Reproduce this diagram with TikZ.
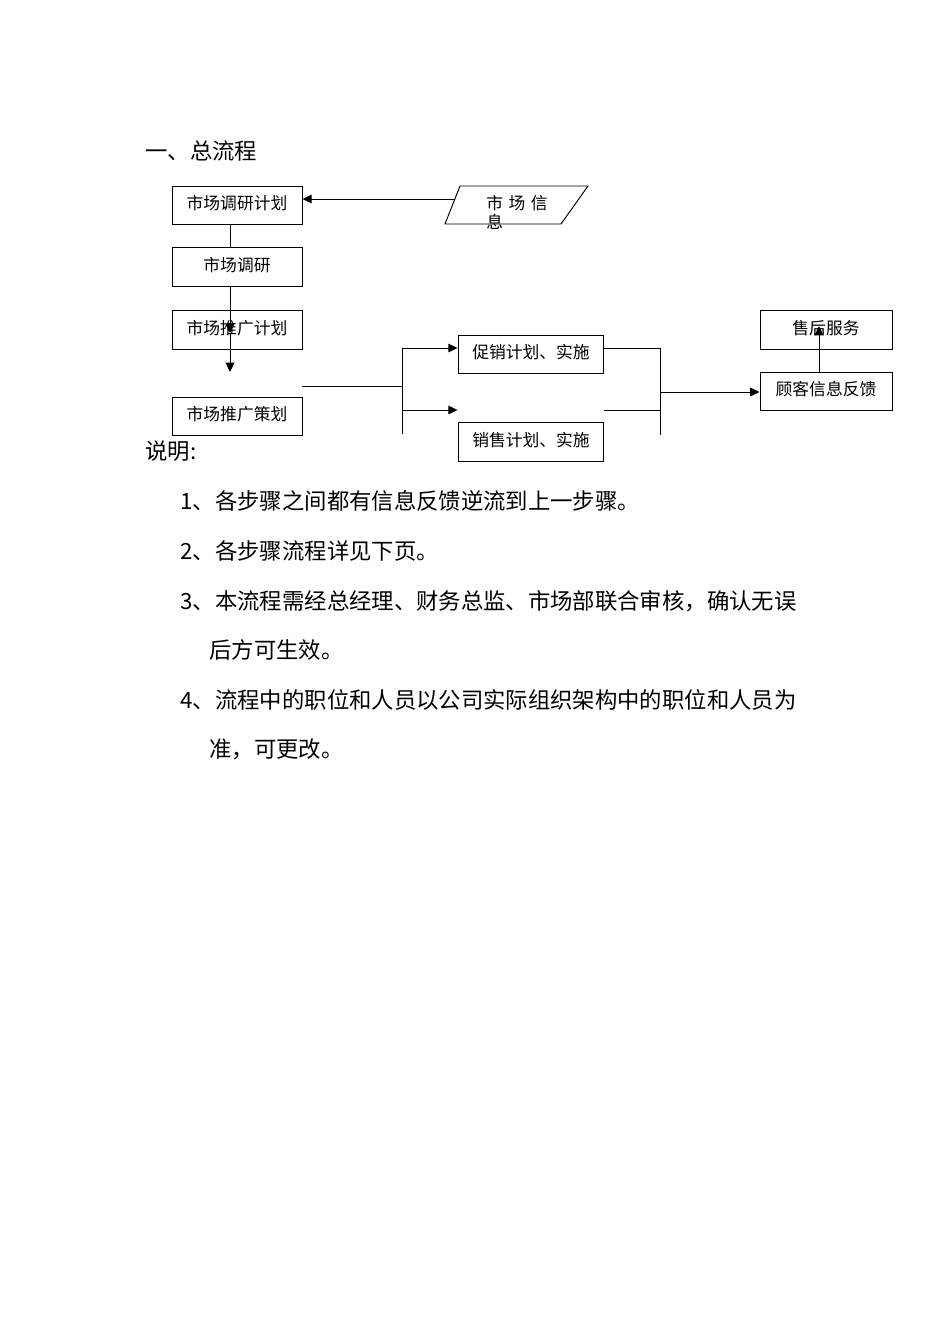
\documentclass[tikz,border=0pt]{standalone}
\usepackage{fontspec}
\setmainfont{Noto Sans CJK SC}
\usetikzlibrary{calc}
\usetikzlibrary{arrows.meta}
\def\hoja{(0,0) rectangle (950,1344)}
\def\up#1{\raisebox{3pt}{#1}}

\begin{document}
\begin{tikzpicture}[x=0.6263pt,y=-0.6263pt,line width=0.6pt,
   stepbox/.style={draw,inner sep=0pt,minimum width=81.4pt,minimum height=23.8pt,font=\fontsize{10.5}{12}\selectfont},
   arr/.style={-{Triangle[length=5.8pt,width=5.4pt]}},
   body/.style={anchor=base west,inner sep=0pt,font=\fontsize{14}{16}\selectfont}]
   \useasboundingbox \hoja;
   \fill[white] \hoja;
% left column
\node[stepbox] (plan) at (237,205) {\up{市场调研计划}};
\node[stepbox,minimum height=24.4pt] (survey) at (237,266.5) {\up{市场调研}};
\node[stepbox,minimum height=24.4pt] (promo) at (237,329.5) {\up{市场推广计划}};
\node[stepbox] (design) at (237,416) {\up{市场推广策划}};
% middle and right
\node[stepbox,minimum width=91.4pt] (sales1) at (531,354) {\up{促销计划、实施}};
\node[stepbox,minimum width=91.4pt,minimum height=24.4pt] (sales2) at (531,441.5) {\up{销售计划、实施}};
\node[stepbox,minimum width=82.7pt,minimum height=24.4pt] (service) at (826,329.5) {\up{售后服务}};
\node[stepbox,minimum width=82.7pt] (feedback) at (826,391) {\up{顾客信息反馈}};
% market info
\coordinate (i1) at (460,186); \coordinate (i2) at (588,186);
\coordinate (i3) at (561,224); \coordinate (i4) at (445,224);
\draw (i1) -- (i2) -- (i3) -- (i4) -- cycle;
\node[anchor=north west,align=left,inner sep=0pt,font=\fontsize{10.5}{12}\selectfont] (info) at (486,195) {市\hspace{3.4pt}场\hspace{3.4pt}信\\息};
\coordinate (i5) at ($(i1)!0.342!(i4)$);
\draw[arr] (i5) -- (i5 -| plan.east);
% vertical flow
\coordinate (vx) at (230,0);
\coordinate (m1) at (230,333); \coordinate (m2) at (230,372);
\draw (plan.south -| vx) -- (survey.north -| vx);
\draw[arr] (survey.south -| vx) -- (m1);
\draw[arr] (m1) -- (m2);
% branches
\coordinate (j1) at (402,386); \coordinate (j2) at (402,348);
\coordinate (j3) at (402,434); \coordinate (j4) at (402,410);
\draw (design.east |- j1) -- (j1);
\draw (j2) -- (j3);
\draw[arr] (j2) -- (j2 -| sales1.west);
\draw[arr] (j4) -- (j4 -| sales2.west);
\coordinate (k1) at (660,348); \coordinate (k2) at (660,410);
\coordinate (k3) at (660,435); \coordinate (k4) at (660,392);
\draw (k1 -| sales1.east) -- (k1);
\draw (k2 -| sales2.east) -- (k2);
\draw (k1) -- (k3);
\draw[arr] (k4) -- (k4 -| feedback.west);
\coordinate (t1) at (819,326);
\draw[arr] (t1 |- feedback.north) -- (t1);
% texts
\node[body] (title) at (145,159) {一、总流程};
\node[body] (note) at (145,459) {说明:};
\node[body] (n1) at (180,509) {1、各步骤之间都有信息反馈逆流到上一步骤。};
\node[body] (n2) at (180,559) {2、各步骤流程详见下页。};
\node[body] (n3) at (180,609) {3、本流程需经总经理、财务总监、市场部联合审核，确认无误};
\node[body] (n3b) at (209,658) {后方可生效。};
\node[body] (n4) at (180,708) {4、流程中的职位和人员以公司实际组织架构中的职位和人员为};
\node[body] (n4b) at (209,757) {准，可更改。};
\end{tikzpicture}
\end{document}
